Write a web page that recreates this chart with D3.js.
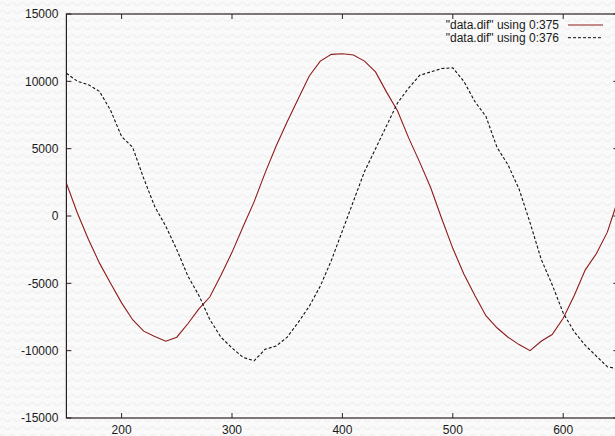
<!DOCTYPE html>
<html>
<head>
<meta charset="utf-8">
<script src="https://cdn.jsdelivr.net/npm/d3@7"></script>
<style>
  body { margin: 0; background: #fafafa; overflow: hidden; }
  svg { display: block; }
  text { font-family: "Liberation Sans", Arial, Helvetica, sans-serif; font-size: 12px; fill: #1a1a1a; }
</style>
</head>
<body>
<div id="chart"></div>
<script>
// sample positions (column 0) and the two columns
var xs = [150, 160, 170, 180, 190, 200, 210, 220, 230, 240, 250, 260, 270, 280, 290, 300,
  310, 320, 330, 340, 350, 360, 370, 380, 390, 400, 410, 420, 430, 440, 450, 460, 470,
  480, 490, 500, 510, 520, 530, 540, 550, 560, 570, 580, 590, 600, 610, 620, 630, 640, 650];

var col375 = [2430, 200, -1750, -3500, -5000, -6450, -7700, -8550, -8950, -9300, -9000,
  -8000, -6900, -6000, -4400, -2700, -800, 1050, 3200, 5200, 7000, 8700, 10400, 11500,
  12000, 12050, 11950, 11500, 10700, 9200, 7800, 5800, 4000, 2100, -200, -2400, -4300,
  -5900, -7400, -8300, -9000, -9550, -10000, -9300, -8800, -7600, -5900, -4000, -2800,
  -1200, 1300];

var col376 = [10600, 10000, 9750, 9250, 7850, 5900, 5100, 2800, 700, -750, -2500, -4450,
  -5900, -7700, -9000, -9800, -10500, -10750, -9900, -9650, -9000, -7900, -6700, -5200,
  -3300, -1100, 1100, 3300, 5000, 6700, 8400, 9500, 10450, 10700, 10950, 11000, 10000,
  8500, 7400, 5100, 3800, 2000, -500, -3200, -5100, -7200, -8600, -9600, -10400, -11200,
  -11350];

var seriesNames = ['"data.dif" using 0:375', '"data.dif" using 0:376'];
var xTicks = [200, 300, 400, 500, 600];
var yTicks = [-15000, -10000, -5000, 0, 5000, 10000, 15000];

var W = 615, H = 436;
var plot = { left: 66.4, right: 618.4, top: 14, bottom: 418 };

d3.select('#chart').html('');

var svg = d3.select('#chart').append('svg')
  .attr('width', W)
  .attr('height', H);

// faint wavy paper background
var defs = svg.append('defs');
var pat = defs.append('pattern')
  .attr('id', 'waves')
  .attr('width', 10)
  .attr('height', 8)
  .attr('patternUnits', 'userSpaceOnUse');
pat.append('rect').attr('width', 10).attr('height', 8).attr('fill', '#fafafa');
pat.append('path')
  .attr('d', 'M0,4 Q2.5,1 5,4 T10,4')
  .attr('fill', 'none')
  .attr('stroke', '#efefef')
  .attr('stroke-width', 1.2);
svg.append('rect').attr('width', W).attr('height', H).attr('fill', 'url(#waves)');

var x = d3.scaleLinear().domain([150, 650]).range([plot.left, plot.right]);
var y = d3.scaleLinear().domain([-15000, 15000]).range([plot.bottom, plot.top]);

var axisColor = '#2a2020';
var tick = 5;

// plot border
svg.append('rect')
  .attr('x', plot.left).attr('y', plot.top)
  .attr('width', plot.right - plot.left).attr('height', plot.bottom - plot.top)
  .attr('fill', 'none')
  .attr('stroke', axisColor)
  .attr('stroke-width', 1.2);

// y ticks (left and mirrored right)
yTicks.forEach(function(v) {
  svg.append('line')
    .attr('x1', plot.left).attr('x2', plot.left + tick)
    .attr('y1', y(v)).attr('y2', y(v))
    .attr('stroke', axisColor);
  svg.append('line')
    .attr('x1', plot.right - tick).attr('x2', plot.right)
    .attr('y1', y(v)).attr('y2', y(v))
    .attr('stroke', axisColor);
  svg.append('text')
    .attr('x', plot.left - 8)
    .attr('y', y(v))
    .attr('dy', '0.35em')
    .attr('text-anchor', 'end')
    .text(v);
});

// x ticks (bottom and mirrored top)
xTicks.forEach(function(v) {
  svg.append('line')
    .attr('x1', x(v)).attr('x2', x(v))
    .attr('y1', plot.bottom).attr('y2', plot.bottom - tick)
    .attr('stroke', axisColor);
  svg.append('line')
    .attr('x1', x(v)).attr('x2', x(v))
    .attr('y1', plot.top).attr('y2', plot.top + tick)
    .attr('stroke', axisColor);
  svg.append('text')
    .attr('x', x(v))
    .attr('y', plot.bottom + 16)
    .attr('text-anchor', 'middle')
    .text(v);
});

var line = d3.line()
  .x(function(d) { return x(d[0]); })
  .y(function(d) { return y(d[1]); });

var series = [
  { name: seriesNames[0], values: col375, color: '#8e1b1b', dash: null },
  { name: seriesNames[1], values: col376, color: '#111111', dash: '3,2' }
];

svg.append('clipPath').attr('id', 'clip')
  .append('rect')
  .attr('x', plot.left).attr('y', plot.top)
  .attr('width', plot.right - plot.left).attr('height', plot.bottom - plot.top);

series.forEach(function(s) {
  svg.append('path')
    .datum(xs.map(function(v, i) { return [v, s.values[i]]; }))
    .attr('clip-path', 'url(#clip)')
    .attr('d', line)
    .attr('fill', 'none')
    .attr('stroke', s.color)
    .attr('stroke-width', 1.1)
    .attr('stroke-dasharray', s.dash);
});

// key, top right
series.forEach(function(s, i) {
  var ly = 25 + i * 12.7;
  svg.append('text')
    .attr('x', 559)
    .attr('y', ly)
    .attr('dy', '0.35em')
    .attr('text-anchor', 'end')
    .text(s.name);
  svg.append('line')
    .attr('x1', 568).attr('x2', 603)
    .attr('y1', ly).attr('y2', ly)
    .attr('stroke', s.color)
    .attr('stroke-width', 1)
    .attr('stroke-dasharray', s.dash);
});
</script>
</body>
</html>
